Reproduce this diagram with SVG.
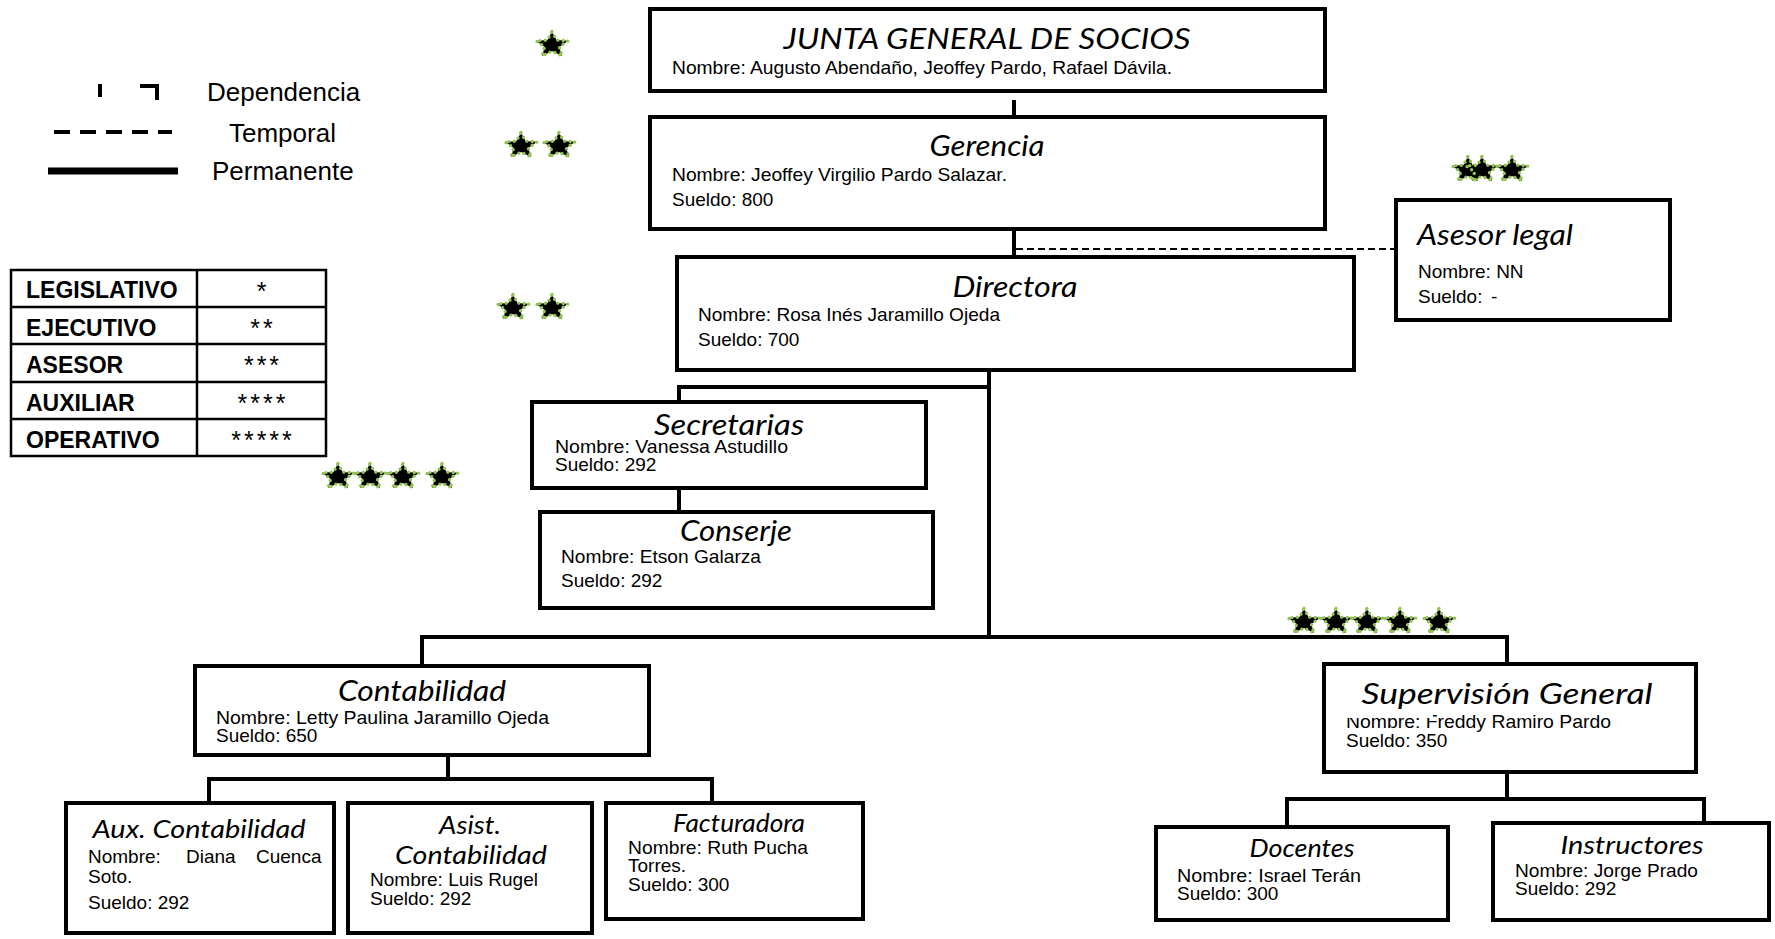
<svg xmlns="http://www.w3.org/2000/svg" width="1775" height="939" viewBox="0 0 1775 939">
<defs>
<style>
.box{fill:#fff;stroke:#000;stroke-width:4}
.c{fill:none;stroke:#000;stroke-width:4}
.ti{font-family:Lato,"Open Sans","DejaVu Sans",sans-serif;font-style:italic;font-size:28px;text-anchor:middle;fill:#000}
.ts{font-size:25px}
.tx{font-family:"Liberation Sans",Arial,sans-serif;font-size:19px;fill:#000}
.lg{font-family:"Liberation Sans",Arial,sans-serif;font-size:26px;fill:#000}
.tb{font-family:"Liberation Sans",Arial,sans-serif;font-size:23px;font-weight:bold;fill:#000}
.as{font-family:"Liberation Sans",Arial,sans-serif;font-size:25px;text-anchor:middle;letter-spacing:3px;fill:#000}
.st{fill:#000;stroke:#92c353;stroke-width:3.4;stroke-dasharray:0 5.5;stroke-linecap:round}
</style>
<g id="star">
<polygon class="st" points="0,-13.5 4.5,-4.91 16.17,-4.17 7.28,1.88 10,10.92 0,6.08 -10,10.92 -7.28,1.88 -16.17,-4.17 -4.5,-4.91"/>
</g>
<clipPath id="supclip">
<rect x="1300" y="718" width="470" height="60"/>
<rect x="1433" y="690" width="300" height="60"/>
</clipPath>
</defs>
<rect width="1775" height="939" fill="#fff"/>

<!-- legend -->
<g id="legend">
<path d="M100 84 V97 M140 86 H157 V100" class="c"/>
<path d="M54 132 H172" fill="none" stroke="#000" stroke-width="4" stroke-dasharray="16 10"/>
<path d="M48 171 H178" fill="none" stroke="#000" stroke-width="7"/>
<text class="lg" x="207" y="101">Dependencia</text>
<text class="lg" x="229" y="142">Temporal</text>
<text class="lg" x="212" y="180">Permanente</text>
</g>

<!-- level table -->
<g id="levels">
<rect x="11" y="270" width="315" height="186" fill="#fff" stroke="#000" stroke-width="2.5"/>
<path d="M197 270 V456 M11 307 H326 M11 344 H326 M11 382 H326 M11 419 H326" stroke="#000" stroke-width="2.5" fill="none"/>
<text class="tb" x="26" y="298">LEGISLATIVO</text>
<text class="tb" x="26" y="336">EJECUTIVO</text>
<text class="tb" x="26" y="373">ASESOR</text>
<text class="tb" x="26" y="411">AUXILIAR</text>
<text class="tb" x="26" y="448">OPERATIVO</text>
<text class="as" x="263" y="300">*</text>
<text class="as" x="263" y="337">**</text>
<text class="as" x="263" y="374">***</text>
<text class="as" x="263" y="412">****</text>
<text class="as" x="263" y="449">*****</text>
</g>

<!-- stars -->
<g id="stars">
<use href="#star" x="552" y="45"/>
<use href="#star" x="521" y="146"/>
<use href="#star" x="559" y="146"/>
<use href="#star" x="513" y="308"/>
<use href="#star" x="552" y="308"/>
<use href="#star" x="1468" y="170"/>
<use href="#star" x="1482" y="170"/>
<use href="#star" x="1512" y="170"/>
<use href="#star" x="338" y="477"/>
<use href="#star" x="370" y="477"/>
<use href="#star" x="403" y="477"/>
<use href="#star" x="442" y="477"/>
<use href="#star" x="1304" y="622"/>
<use href="#star" x="1336" y="622"/>
<use href="#star" x="1367" y="622"/>
<use href="#star" x="1400" y="622"/>
<use href="#star" x="1439" y="622"/>
</g>

<!-- connectors -->
<g id="connectors">
<path class="c" d="M1014 100 V117"/>
<path class="c" d="M1014 229 V257"/>
<path d="M1016 249 H1396" fill="none" stroke="#000" stroke-width="2" stroke-dasharray="7 4"/>
<path class="c" d="M989 370 V637"/>
<path class="c" d="M989 387 H679 V402"/>
<path class="c" d="M679 488 V512"/>
<path class="c" d="M422 666 V637 H1507 V664"/>
<path class="c" d="M448 755 V779"/>
<path class="c" d="M209 803 V779 H712 V803"/>
<path class="c" d="M1507 772 V799"/>
<path class="c" d="M1287 827 V799 H1704 V823"/>
</g>

<g id="junta">
<rect class="box" x="650" y="9" width="675" height="82"/>
<text class="ti" x="987" y="49" textLength="407" lengthAdjust="spacingAndGlyphs">JUNTA GENERAL DE SOCIOS</text>
<text class="tx" x="672" y="74" textLength="500" lengthAdjust="spacingAndGlyphs">Nombre: Augusto Abendaño, Jeoffey Pardo, Rafael Dávila.</text>
</g>

<g id="gerencia">
<rect class="box" x="650" y="117" width="675" height="112"/>
<text class="ti" x="987" y="156" textLength="115" lengthAdjust="spacingAndGlyphs">Gerencia</text>
<text class="tx" x="672" y="181" textLength="335" lengthAdjust="spacingAndGlyphs">Nombre: Jeoffey Virgilio Pardo Salazar.</text>
<text class="tx" x="672" y="206">Sueldo: 800</text>
</g>

<g id="asesor">
<rect class="box" x="1396" y="200" width="274" height="120"/>
<text class="ti" x="1495" y="245" textLength="156" lengthAdjust="spacingAndGlyphs">Asesor legal</text>
<text class="tx" x="1418" y="278">Nombre: NN</text>
<text class="tx" x="1418" y="303">Sueldo:<tspan x="1491">-</tspan></text>
</g>

<g id="directora">
<rect class="box" x="677" y="257" width="677" height="113"/>
<text class="ti" x="1015" y="297" textLength="125" lengthAdjust="spacingAndGlyphs">Directora</text>
<text class="tx" x="698" y="321" textLength="302" lengthAdjust="spacingAndGlyphs">Nombre: Rosa Inés Jaramillo Ojeda</text>
<text class="tx" x="698" y="346">Sueldo: 700</text>
</g>

<g id="secretarias">
<rect class="box" x="532" y="402" width="394" height="86"/>
<text class="ti" x="729" y="435" textLength="150" lengthAdjust="spacingAndGlyphs">Secretarias</text>
<text class="tx" x="555" y="453" textLength="233" lengthAdjust="spacingAndGlyphs">Nombre: Vanessa Astudillo</text>
<text class="tx" x="555" y="471">Sueldo: 292</text>
</g>

<g id="conserje">
<rect class="box" x="540" y="512" width="393" height="96"/>
<text class="ti" x="736" y="541" textLength="112" lengthAdjust="spacingAndGlyphs">Conserje</text>
<text class="tx" x="561" y="563" textLength="200" lengthAdjust="spacingAndGlyphs">Nombre: Etson Galarza</text>
<text class="tx" x="561" y="587">Sueldo: 292</text>
</g>

<g id="contabilidad">
<rect class="box" x="195" y="666" width="454" height="89"/>
<text class="ti" x="422" y="701" textLength="168" lengthAdjust="spacingAndGlyphs">Contabilidad</text>
<text class="tx" x="216" y="724" textLength="333" lengthAdjust="spacingAndGlyphs">Nombre: Letty Paulina Jaramillo Ojeda</text>
<text class="tx" x="216" y="742">Sueldo: 650</text>
</g>

<g id="supervision">
<rect class="box" x="1324" y="664" width="372" height="108"/>
<text class="ti" x="1507" y="704" font-size="30" textLength="291" lengthAdjust="spacingAndGlyphs">Supervisión General</text>
<text class="tx" x="1346" y="728" textLength="265" lengthAdjust="spacingAndGlyphs" clip-path="url(#supclip)">Nombre: Freddy Ramiro Pardo</text>
<text class="tx" x="1346" y="747">Sueldo: 350</text>
</g>

<g id="aux">
<rect class="box" x="66" y="803" width="268" height="130"/>
<text class="ti ts" x="199" y="838" textLength="213" lengthAdjust="spacingAndGlyphs">Aux. Contabilidad</text>
<text class="tx" x="88" y="863">Nombre:<tspan x="186">Diana</tspan><tspan x="256">Cuenca</tspan></text>
<text class="tx" x="88" y="883">Soto.</text>
<text class="tx" x="88" y="909">Sueldo: 292</text>
</g>

<g id="asist">
<rect class="box" x="348" y="803" width="244" height="130"/>
<text class="ti ts" x="470" y="834" textLength="62" lengthAdjust="spacingAndGlyphs">Asist.</text>
<text class="ti ts" x="471" y="864" textLength="152" lengthAdjust="spacingAndGlyphs">Contabilidad</text>
<text class="tx" x="370" y="886" textLength="168" lengthAdjust="spacingAndGlyphs">Nombre: Luis Rugel</text>
<text class="tx" x="370" y="905">Sueldo: 292</text>
</g>

<g id="facturadora">
<rect class="box" x="606" y="803" width="257" height="116"/>
<text class="ti ts" x="739" y="832" font-size="24" textLength="132" lengthAdjust="spacingAndGlyphs">Facturadora</text>
<text class="tx" x="628" y="854" textLength="180" lengthAdjust="spacingAndGlyphs">Nombre: Ruth Pucha</text>
<text class="tx" x="628" y="872">Torres.</text>
<text class="tx" x="628" y="891">Sueldo: 300</text>
</g>

<g id="docentes">
<rect class="box" x="1156" y="827" width="292" height="93"/>
<text class="ti ts" x="1302" y="857" textLength="105" lengthAdjust="spacingAndGlyphs">Docentes</text>
<text class="tx" x="1177" y="882" textLength="184" lengthAdjust="spacingAndGlyphs">Nombre: Israel Terán</text>
<text class="tx" x="1177" y="900">Sueldo: 300</text>
</g>

<g id="instructores">
<rect class="box" x="1493" y="823" width="276" height="97"/>
<text class="ti ts" x="1632" y="854" textLength="143" lengthAdjust="spacingAndGlyphs">Instructores</text>
<text class="tx" x="1515" y="877" textLength="183" lengthAdjust="spacingAndGlyphs">Nombre: Jorge Prado</text>
<text class="tx" x="1515" y="895">Sueldo: 292</text>
</g>
</svg>
